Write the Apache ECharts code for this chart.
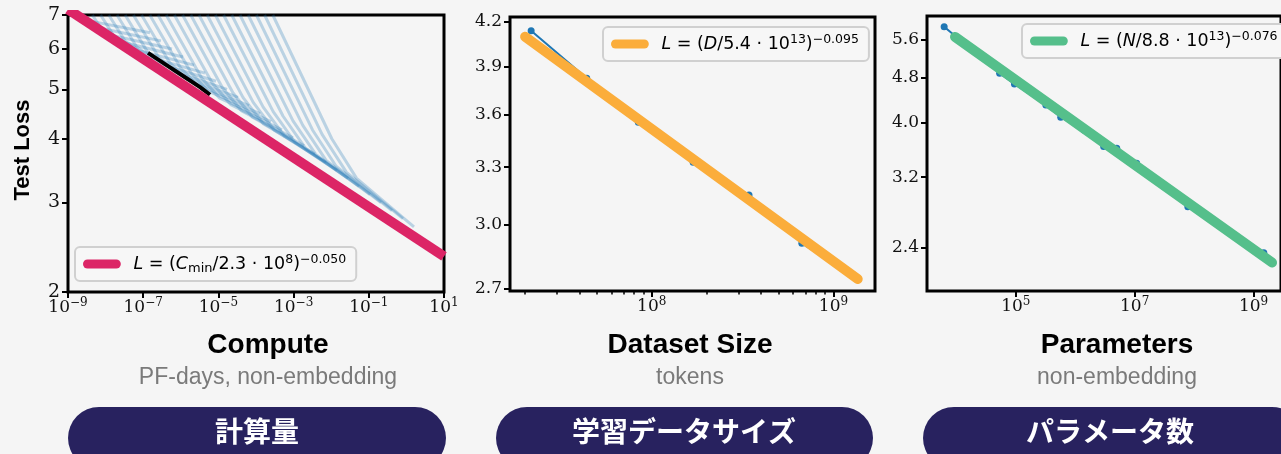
<!DOCTYPE html>
<html>
<head>
<meta charset="utf-8">
<script src="https://cdn.jsdelivr.net/npm/echarts@6/dist/echarts.min.js"></script>
<style>
html,body{margin:0;padding:0;background:#f5f5f5;}
#c{width:1281px;height:454px;}
</style>
</head>
<body>
<div id="c"></div>
<script>
// ---------- DATA ----------
// Panel 1: learning curves, points are [log10(compute, PF-days), test loss]
const computeCurves = [
  [[-8.787,7.0],[-8.734,6.906],[-8.436,6.816],[-6.819,6.459]],
  [[-8.569,7.0],[-8.412,6.721],[-8.096,6.586],[-6.527,6.227]],
  [[-8.351,7.0],[-8.096,6.544],[-7.763,6.369],[-6.234,6.002]],
  [[-8.133,7.0],[-7.785,6.378],[-7.434,6.162],[-5.941,5.787]],
  [[-7.915,7.0],[-7.476,6.213],[-7.109,5.959],[-5.649,5.580]],
  [[-7.697,7.0],[-7.176,6.063],[-6.793,5.774],[-5.356,5.381]],
  [[-7.479,7.0],[-6.878,5.911],[-6.476,5.593],[-5.064,5.187]],
  [[-7.261,7.0],[-6.585,5.774],[-6.170,5.422],[-4.771,5.001]],
  [[-7.043,7.0],[-6.293,5.639],[-5.862,5.260],[-4.479,4.821]],
  [[-6.824,7.0],[-6.005,5.506],[-5.559,5.101],[-4.186,4.647]],
  [[-6.606,7.0],[-5.723,5.383],[-5.261,4.953],[-3.894,4.482]],
  [[-6.388,7.0],[-5.441,5.260],[-4.965,4.805],[-3.601,4.321]],
  [[-6.170,7.0],[-5.165,5.145],[-4.673,4.668],[-3.309,4.166]],
  [[-5.952,7.0],[-4.888,5.033],[-4.380,4.535],[-3.016,4.016]],
  [[-5.734,7.0],[-4.614,4.924],[-4.093,4.408],[-2.723,3.872]],
  [[-5.516,7.0],[-4.343,4.818],[-3.809,4.282],[-2.431,3.732]],
  [[-5.298,7.0],[-4.074,4.715],[-3.524,4.162],[-2.138,3.598]],
  [[-5.080,7.0],[-3.809,4.616],[-3.242,4.049],[-1.846,3.470]],
  [[-4.862,7.0],[-3.543,4.521],[-2.963,3.937],[-1.553,3.345]],
  [[-4.644,7.0],[-3.279,4.428],[-2.686,3.832],[-1.261,3.225]],
  [[-4.426,7.0],[-3.016,4.337],[-2.410,3.726],[-0.968,3.109]],
  [[-4.207,7.0],[-2.755,4.248],[-2.136,3.626],[-0.676,2.997]],
  [[-3.989,7.0],[-2.497,4.162],[-1.864,3.528],[-0.383,2.889]],
  [[-3.771,7.0],[-2.242,4.080],[-1.593,3.436],[-0.090,2.787]],
  [[-3.553,7.0],[-1.984,4.000],[-1.324,3.343],[0.202,2.686]]
];
const computeBlack = [[-6.872,5.896],[-6.420,5.607],[-5.888,5.283],[-5.489,5.053],[-5.223,4.880]];
const computeFitLog10 = [-9, 1];
const computeFitLoss = [7.18, 2.35];

// Panel 2: dataset size (tokens) vs loss
const datasetTokens = [2.17e7, 4.39e7, 8.44e7, 1.69e8, 3.43e8, 6.70e8, 1.33e9];
const datasetLoss   = [4.138, 3.824, 3.555, 3.327, 3.151, 2.909, 2.75];
const datasetFitTokens = [2.01e7, 1.36e9];
const datasetFitLoss   = [4.097, 2.742];

// Panel 3: parameters vs loss
const paramCounts = [6.24e3, 5.35e4, 9.5e4, 3.21e5, 5.71e5, 1.40e6, 3.01e6, 5.0e6, 1.08e7, 3.0e7, 7.85e7, 1.49e9];
const paramLoss   = [5.912, 4.890, 4.681, 4.297, 4.087, 3.880, 3.625, 3.601, 3.387, 3.088, 2.838, 2.352];
const paramFitCounts = [9.5e3, 2.05e9];
const paramFitLoss   = [5.67, 2.26];

// Axis ranges and tick labels
const computeXRangeLog10 = [-9, 1];
const computeXTicks = [-9, -7, -5, -3, -1, 1];      // exponents of 10
const computeYRange = [2, 7];
const computeYTicks = [2, 3, 4, 5, 6, 7];
const datasetXRange = [1.66e7, 1.693e9];
const datasetXTicks = [8, 9];                         // exponents of 10
const datasetXMinor = [2e7,3e7,4e7,5e7,6e7,7e7,8e7,9e7,2e8,3e8,4e8,5e8,6e8,7e8,8e8,9e8];
const datasetYRange = [2.688, 4.233];
const datasetYTicks = [2.7, 3.0, 3.3, 3.6, 3.9, 4.2];
const paramXRange = [3.21e3, 2.9e9];
const paramXTicks = [5, 7, 9];                        // exponents of 10
const paramYRange = [2.012, 6.175];
const paramYTicks = [2.4, 3.2, 4.0, 4.8, 5.6];

const legendTexts = {
  computeFit: '{i|L} = ({i|C}{sub|min}/2.3 · 10{sup|8}){sup|\u22120.050}',
  datasetFit: '{i|L} = ({i|D}/5.4 · 10{sup|13}){sup|\u22120.095}',
  paramFit:   '{i|L} = ({i|N}/8.8 · 10{sup|13}){sup|\u22120.076}'
};
const titles = ['Compute', 'Dataset Size', 'Parameters'];
const subtitles = ['PF-days, non-embedding', 'tokens', 'non-embedding'];
const pillTexts = ['計算量', '学習データサイズ', 'パラメータ数'];

// ---------- CHART ----------
const L10 = Math.log10;
const chart = echarts.init(document.getElementById('c'));
const SERIF = 'DejaVu Serif';
const BASE = {fontFamily: SERIF, fontSize: 17, lineHeight: 22, color: '#111'};
const SUP = {fontFamily: SERIF, fontSize: 12, lineHeight: 12, verticalAlign: 'top', color: '#111'};
function expText(e) { const n = Math.round(e); return (n < 0 ? '\u2212' : '') + Math.abs(n); }
function xMain(gi, min, max, exps) {
  return {type: 'value', gridIndex: gi, min: min, max: max, position: 'bottom',
    axisLine: {show: false, onZero: false}, splitLine: {show: false},
    axisTick: {show: true, customValues: exps, length: 6, lineStyle: {color: '#000', width: 2}},
    axisLabel: {show: true, customValues: exps, margin: 5,
      formatter: v => '{b|10}{s|' + expText(v) + '}', rich: {b: BASE, s: SUP}}};
}
function yMain(gi, range, ticks, dec, fs) {
  const tv = ticks.map(L10);
  return {type: 'value', gridIndex: gi, min: L10(range[0]), max: L10(range[1]), position: 'left',
    axisLine: {show: false, onZero: false}, splitLine: {show: false},
    axisTick: {show: true, customValues: tv, length: 6, lineStyle: {color: '#000', width: 2}},
    axisLabel: {show: true, customValues: tv, margin: 8, fontFamily: SERIF, fontSize: fs, color: '#111',
      formatter: v => Math.pow(10, v).toFixed(dec)}};
}
const gridBase = {show: true, borderColor: '#000', borderWidth: 3, backgroundColor: 'transparent', containLabel: false};

const series = [];
computeCurves.forEach((c, k) => {
  series.push({type: 'line', xAxisIndex: 0, yAxisIndex: 0, silent: true, symbol: 'none', z: 2,
    data: c.map(p => [p[0], L10(p[1])]),
    lineStyle: {color: 'rgba(31,119,180,0.27)', width: 3}});
});
series.push({type: 'line', xAxisIndex: 0, yAxisIndex: 0, silent: true, symbol: 'none', z: 3,
  data: computeBlack.map(p => [p[0], L10(p[1])]), lineStyle: {color: '#000', width: 4}});
series.push({name: 'computeFit', type: 'line', xAxisIndex: 0, yAxisIndex: 0, silent: true, symbol: 'none', z: 4,
  data: computeFitLog10.map((x, i) => [x, L10(computeFitLoss[i])]),
  itemStyle: {color: '#dc2566'}, lineStyle: {color: '#dc2566', width: 10}});

series.push({type: 'line', xAxisIndex: 1, yAxisIndex: 1, silent: true, symbol: 'circle', symbolSize: 7, z: 2,
  data: datasetTokens.map((d, i) => [L10(d), L10(datasetLoss[i])]),
  itemStyle: {color: '#1f77b4'}, lineStyle: {color: '#1f77b4', width: 2}});
series.push({name: 'datasetFit', type: 'line', xAxisIndex: 1, yAxisIndex: 1, silent: true, symbol: 'none', z: 4,
  data: datasetFitTokens.map((d, i) => [L10(d), L10(datasetFitLoss[i])]),
  itemStyle: {color: '#fbad3b'}, lineStyle: {color: '#fbad3b', width: 10, cap: 'round'}});

series.push({type: 'line', xAxisIndex: 3, yAxisIndex: 2, silent: true, symbol: 'circle', symbolSize: 7, z: 2,
  data: paramCounts.map((n, i) => [L10(n), L10(paramLoss[i])]),
  itemStyle: {color: '#1f77b4'}, lineStyle: {color: '#1f77b4', width: 2}});
series.push({name: 'paramFit', type: 'line', xAxisIndex: 3, yAxisIndex: 2, silent: true, symbol: 'none', z: 4,
  data: paramFitCounts.map((n, i) => [L10(n), L10(paramFitLoss[i])]),
  itemStyle: {color: '#55bf8b'}, lineStyle: {color: '#55bf8b', width: 10, cap: 'round'}});

function legendFor(name, left, top) {
  return {data: [name], left: left, top: top, orient: 'horizontal', selectedMode: false,
    icon: 'path://M5,0 L37,0 A5,5 0 0 1 37,10 L5,10 A5,5 0 0 1 5,0 Z',
    itemWidth: 41, itemHeight: 9,
    backgroundColor: '#f7f7f7', borderColor: '#d0d0d0', borderWidth: 2, borderRadius: 5,
    padding: [6, 10, 6, 8],
    formatter: n => legendTexts[n],
    textStyle: {fontFamily: 'DejaVu Sans', fontSize: 17.5, color: '#000', lineHeight: 22, padding: [0, 0, 0, 6],
      rich: {
        i: {fontFamily: 'DejaVu Sans', fontStyle: 'italic', fontSize: 17.5, lineHeight: 22, color: '#000'},
        sup: {fontFamily: 'DejaVu Sans', fontSize: 12.5, lineHeight: 12, verticalAlign: 'top', color: '#000'},
        sub: {fontFamily: 'DejaVu Sans', fontSize: 13, lineHeight: 12, verticalAlign: 'bottom', color: '#000'}
      }}};
}

const graphic = [];
graphic.push({type: 'text', x: 23, y: 150, rotation: Math.PI / 2, silent: true,
  style: {text: 'Test Loss', font: 'bold 22px "Liberation Sans"', fill: '#000',
    align: 'center', verticalAlign: 'middle', textAlign: 'center', textVerticalAlign: 'middle'}});
const titleX = [268, 690, 1117];
const pillRects = [[68, 378], [496, 377], [923, 380]];
const pillTextX = [257, 684, 1110];
for (let k = 0; k < 3; k++) {
  graphic.push({type: 'text', x: titleX[k], y: 345, silent: true,
    style: {text: titles[k], font: 'bold 28px "Liberation Sans"', fill: '#000',
      align: 'center', verticalAlign: 'middle', textAlign: 'center', textVerticalAlign: 'middle'}});
  graphic.push({type: 'text', x: titleX[k], y: 378, silent: true,
    style: {text: subtitles[k], font: '23px "Liberation Sans"', fill: '#7a7a7a',
      align: 'center', verticalAlign: 'middle', textAlign: 'center', textVerticalAlign: 'middle'}});
  graphic.push({type: 'rect', silent: true,
    shape: {x: pillRects[k][0], y: 407, width: pillRects[k][1], height: 62, r: 31},
    style: {fill: '#28225f'}});
  graphic.push({type: 'text', x: pillTextX[k], y: 431, silent: true, z: 10,
    style: {text: pillTexts[k], font: 'bold 28px "Noto Sans CJK JP"', fill: '#ffffff',
      align: 'center', verticalAlign: 'middle', textAlign: 'center', textVerticalAlign: 'middle'}});
}

const option = {
  animation: false,
  backgroundColor: '#f5f5f5',
  grid: [
    Object.assign({left: 68, top: 15, width: 376, height: 277}, gridBase),
    Object.assign({left: 510, top: 17, width: 365, height: 274}, gridBase),
    Object.assign({left: 927, top: 16, width: 357, height: 275}, gridBase)
  ],
  xAxis: [
    xMain(0, computeXRangeLog10[0], computeXRangeLog10[1], computeXTicks),
    xMain(1, L10(datasetXRange[0]), L10(datasetXRange[1]), datasetXTicks),
    {type: 'value', gridIndex: 1, min: L10(datasetXRange[0]), max: L10(datasetXRange[1]), position: 'bottom',
      axisLine: {show: false, onZero: false}, splitLine: {show: false}, axisLabel: {show: false},
      axisTick: {show: true, customValues: datasetXMinor.map(L10), length: 3.5, lineStyle: {color: '#000', width: 1.5}}},
    xMain(2, L10(paramXRange[0]), L10(paramXRange[1]), paramXTicks)
  ],
  yAxis: [
    yMain(0, computeYRange, computeYTicks, 0, 19),
    yMain(1, datasetYRange, datasetYTicks, 1, 17),
    yMain(2, paramYRange, paramYTicks, 1, 17)
  ],
  legend: [
    legendFor('computeFit', 75, 247),
    legendFor('datasetFit', 603, 27),
    legendFor('paramFit', 1022, 24)
  ],
  series: series,
  graphic: graphic
};
chart.setOption(option);
</script>
</body>
</html>
